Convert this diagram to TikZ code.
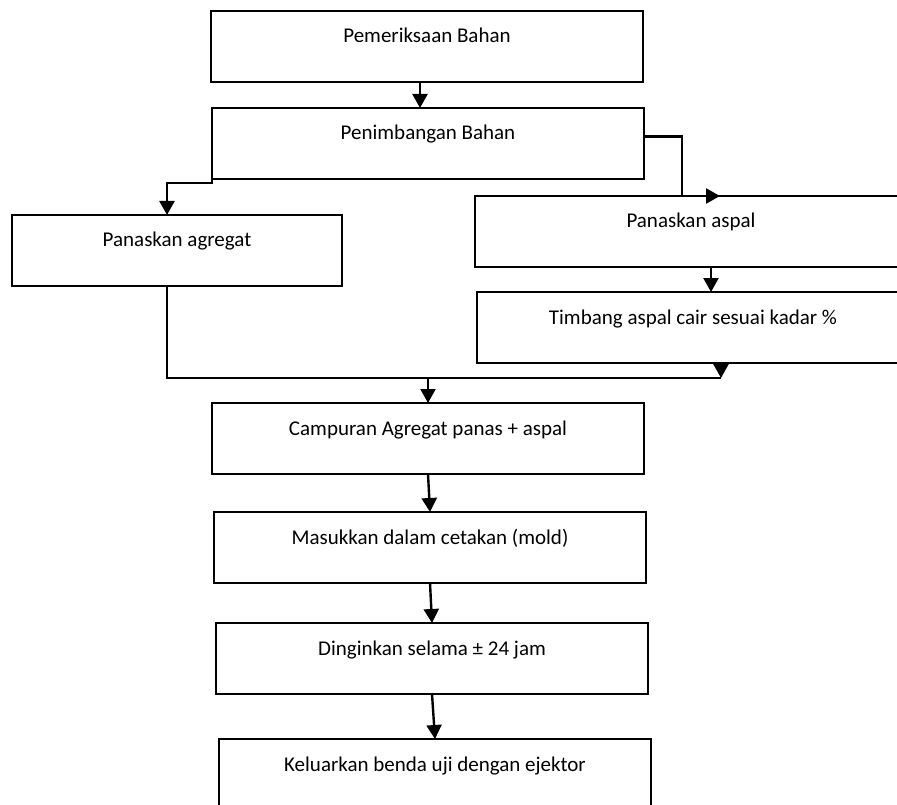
\documentclass[tikz,border=0pt]{standalone}
\usepackage{fontspec}
\setmainfont{Carlito}
\usetikzlibrary{arrows.meta}

\begin{document}
\begin{tikzpicture}[x=1pt,y=-1pt,every node/.append style={font=\fontsize{21}{25}\selectfont},
                    box/.style={draw, line width=1.8pt, anchor=north west, outer sep=0pt,
                    minimum width=432pt, minimum height=71pt, inner ysep=0pt,
                    text height=32pt, text depth=39pt},
                    arr/.style={line width=2.4pt, -{Triangle[length=14pt,width=15pt]}}]
    \path[use as bounding box, clip] (0,0) rectangle (897,805);
    \node[box] (pem)  at (211,11)  {Pemeriksaan Bahan};
    \node[box] (tim)  at (212,108) {Penimbangan Bahan};
    \node[box, minimum width=330pt] (agr) at (12,215) {Panaskan agregat};
    \node[box] (asp)  at (475,196) {Panaskan aspal};
    \node[box] (kdr)  at (477,292) {Timbang aspal cair sesuai kadar \%};
    \node[box] (cmp)  at (212,403) {Campuran Agregat panas + aspal};
    \node[box] (mold) at (214,512) {Masukkan dalam cetakan (mold)};
    \node[box] (dng)  at (216,623) {Dinginkan selama ± 24 jam};
    \node[box] (klr)  at (219,739) {Keluarkan benda uji dengan ejektor};
    \coordinate (mrg) at ([xshift=244pt,yshift=-15pt]kdr.south west);

    \draw[arr] ([xshift=-7pt]pem.south) -- ([xshift=-8pt]tim.north);
    \draw[arr] ([yshift=-8pt]tim.west) -- ([yshift=-4pt]tim.south west)
               -| ([xshift=155pt]agr.north west);
    \draw[arr] ([yshift=7pt]tim.east) -| ([xshift=207pt]asp.north west)
               -- ([xshift=245pt]asp.north west);
    \draw[arr] ([xshift=236pt]asp.south west) -- ([xshift=234pt]kdr.north west);
    \draw[line width=2.4pt] ([xshift=155pt]agr.south west) |- (mrg);
    \draw[arr] ([xshift=244pt]kdr.south west) -- (mrg);
    \draw[arr] (cmp.north |- mrg) -- (cmp.north);
    \draw[arr] (cmp.south) -- (mold.north);
    \draw[arr] (mold.south) -- (dng.north);
    \draw[arr] (dng.south) -- (klr.north);
\end{tikzpicture}
\end{document}
